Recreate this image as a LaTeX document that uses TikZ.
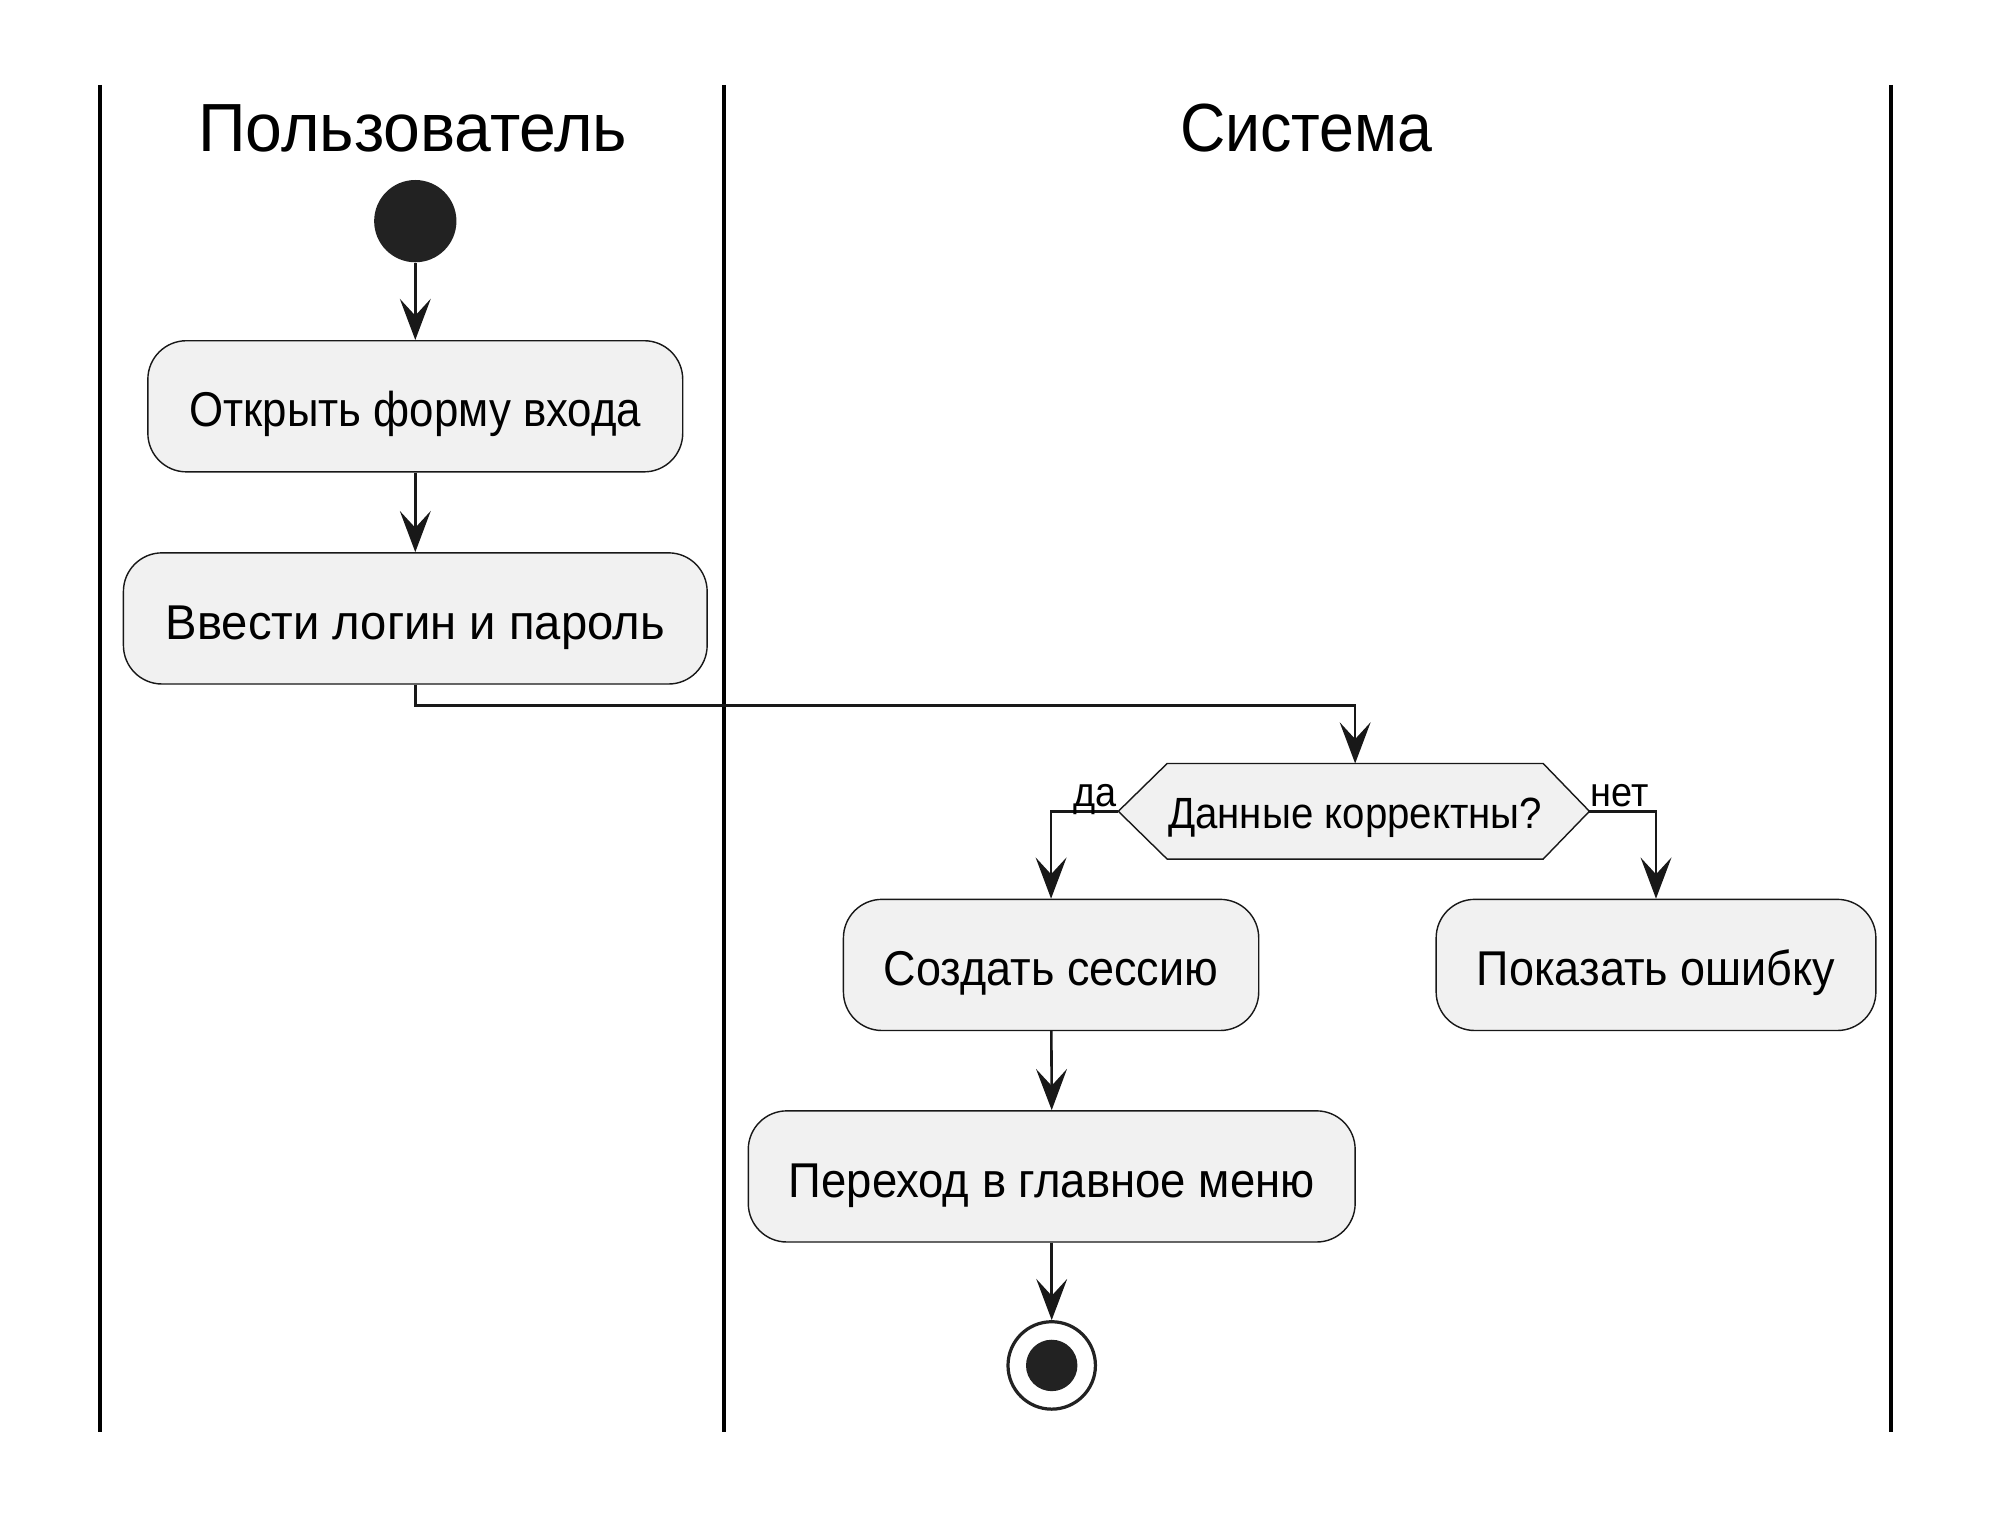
\documentclass[tikz,border=0pt]{standalone}
\usepackage{fontspec}
\setmainfont{Liberation Sans}[FakeStretch=0.92]
\usetikzlibrary{arrows.meta,calc}
\definecolor{boxfill}{HTML}{F1F1F1}
\definecolor{ink}{HTML}{181818}
\definecolor{dot}{HTML}{222222}

\begin{document}
\begin{tikzpicture}[x=1pt,y=-1pt,
  lane/.style={line width=3.2pt, draw=black},
  header/.style={font=\fontsize{53}{60}\selectfont, anchor=base, inner sep=0pt},
  action/.style={draw=ink, fill=boxfill, line width=1.1pt, rounded corners=30pt,
    minimum height=102pt, inner sep=0pt, text height=40pt, text depth=8pt,
    font=\fontsize{38}{42}\selectfont},
  flow/.style={draw=ink, line width=2pt, -{Stealth[length=32pt,width=24pt,inset=13pt]}},
  guard/.style={font=\fontsize{32}{36}\selectfont, inner sep=0pt},
  initial/.style={circle, fill=dot, minimum size=64pt, inner sep=0pt},
  final/.style={circle, draw=dot, line width=2.5pt, fill=white, minimum size=68pt, inner sep=0pt},
  finaldot/.style={circle, fill=dot, minimum size=40pt, inner sep=0pt}]

% page frame
\useasboundingbox (0,0) rectangle (1568,1182);
\fill[white] (0,0) rectangle (1568,1182);

% swimlane separators
\draw[lane] (78,66) -- (78,1114);
\draw[lane] (563,66) -- (563,1114);
\draw[lane] (1471,66) -- (1471,1114);

% lane titles
\node[header] (laneuser) at (321,118) {\scalebox{1.055}[1]{Пользователь}};
\node[header] (lanesys) at (1016,118) {Система};

% user lane
\node[initial] (start) at (323,172) {};
\node[action, minimum width=416pt] (open) at (323,316) {\scalebox{0.975}[1]{Открыть форму входа}};
\node[action, minimum width=454pt] (enter) at (323,481) {\scalebox{1.05}[1]{Ввести логин и пароль}};

% system lane: decision
\node[inner sep=0pt, minimum width=292pt, minimum height=74pt] (dec) at (1054,631) {};
\coordinate (dl) at ($(dec.west)+(-38,0)$);
\coordinate (dr) at ($(dec.east)+(36,0)$);
\draw[draw=ink, fill=boxfill, line width=1.1pt]
  (dec.north west) -- (dec.north east) -- (dr) -- (dec.south east)
  -- (dec.south west) -- (dl) -- cycle;
\node[font=\fontsize{34}{38}\selectfont, inner sep=0pt, text height=33pt, text depth=7pt]
  (dectext) at (dec) {Данные корректны?};

\node[action, minimum width=323pt] (session) at (817.5,750.5) {Создать сессию};
\node[action, minimum width=342pt] (error) at (1288,750.5) {Показать ошибку};
\node[action, minimum width=472pt] (menu) at (818,915) {\scalebox{1.012}[1]{Переход в главное меню}};

\node[final] (stop) at (818,1062) {};
\node[finaldot] (stopdot) at (stop) {};

% control flow
\draw[flow] (start) -- (open.north);
\draw[flow] (open) -- (enter.north);
\draw[flow] (enter.south) -- ++(0,16) -| (dec.north);
\draw[flow] (dl) -| (session.north);
\draw[flow] (dr) -| (error.north);
\draw[flow] (session) -- (menu.north);
\draw[flow] (menu) -- (stop.north);

% branch guards
\node[guard, anchor=base east] (yes) at ($(dl)+(-1,-4)$) {да};
\node[guard, anchor=base west] (no) at ($(dr)+(1,-4)$) {нет};
\end{tikzpicture}
\end{document}
